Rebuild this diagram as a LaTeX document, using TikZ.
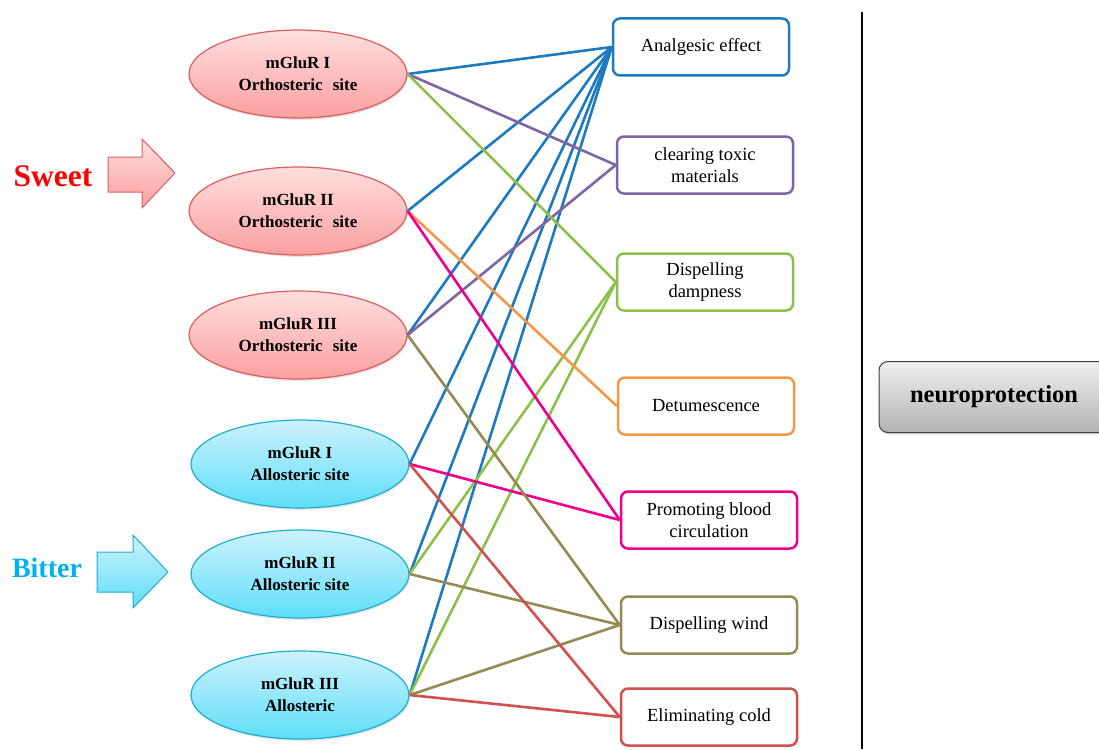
\documentclass[tikz,border=0pt]{standalone}
\usepackage{fontspec}
\setmainfont{Liberation Serif}
\usetikzlibrary{shapes.geometric,shadows}
\definecolor{sweetline}{RGB}{220,95,95}
\definecolor{sweettop}{RGB}{255,222,222}
\definecolor{sweetbot}{RGB}{250,160,160}
\definecolor{bitterline}{RGB}{30,175,205}
\definecolor{bittertop}{RGB}{205,242,252}
\definecolor{bitterbot}{RGB}{95,222,248}
\definecolor{cblue}{RGB}{30,122,192}
\definecolor{cpurple}{RGB}{128,100,165}
\definecolor{cgreen}{RGB}{140,192,75}
\definecolor{corange}{RGB}{247,150,70}
\definecolor{cmagenta}{RGB}{236,0,140}
\definecolor{colive}{RGB}{148,138,84}
\definecolor{cred}{RGB}{210,80,78}
\definecolor{bitterword}{RGB}{0,176,240}

\begin{document}
\begin{tikzpicture}[x=1pt,y=-1pt,
    sweetsite/.style={ellipse, draw=sweetline, line width=1.2pt, top color=sweettop, bottom color=sweetbot,
        minimum width=218pt, minimum height=88pt, inner sep=0pt, align=center,
        font=\fontsize{17}{22}\selectfont\bfseries,
        drop shadow={opacity=0.2, shadow xshift=1pt, shadow yshift=-2pt}},
    bittersite/.style={sweetsite, draw=bitterline, top color=bittertop, bottom color=bitterbot},
    effect/.style={draw, rounded corners=7pt, line width=2.5pt, fill=white, minimum width=176pt,
        minimum height=57pt, align=center, font=\fontsize{18.5}{22}\selectfont},
    link/.style={line width=2.6pt}]
    \useasboundingbox (0,0) rectangle (1099,749);
    % taste labels and block arrows
    \node[text=red, font=\fontsize{31.5}{30}\selectfont\bfseries] (sweet) at (53,176) {Sweet};
    \node[text=bitterword, font=\fontsize{28}{28}\selectfont\bfseries] (bitter) at (47,568) {Bitter};
    \draw[draw=sweetline, line width=1pt, top color=sweettop, bottom color=sweetbot]
        (108,157) -- (142,157) -- (142,139) -- (175,173) -- (142,208) -- (142,192) -- (108,192) -- cycle;
    \draw[draw=bitterline, line width=1pt, top color=bittertop, bottom color=bitterbot]
        (97,552) -- (133,552) -- (133,535) -- (168,572) -- (133,608) -- (133,592) -- (97,592) -- cycle;
    % receptor sites
    \node[sweetsite] (o1) at (298,74) {mGluR I\\Orthosteric\hspace{0.6em}site};
    \node[sweetsite] (o2) at (298,211) {mGluR II\\Orthosteric\hspace{0.6em}site};
    \node[sweetsite] (o3) at (298,335) {mGluR III\\Orthosteric\hspace{0.6em}site};
    \node[bittersite] (a1) at (300,464) {mGluR I\\Allosteric site};
    \node[bittersite] (a2) at (300,574) {mGluR II\\Allosteric site};
    \node[bittersite] (a3) at (300,695) {mGluR III\\Allosteric};
    % effects
    \node[effect, draw=cblue] (e1) at (701,47) {Analgesic effect};
    \node[effect, draw=cpurple] (e2) at (705,165) {clearing toxic\\materials};
    \node[effect, draw=cgreen] (e3) at (705,282) {Dispelling\\dampness};
    \node[effect, draw=corange] (e4) at (706,406) {Detumescence};
    \node[effect, draw=cmagenta] (e5) at (709,520) {Promoting blood\\circulation};
    \node[effect, draw=colive] (e6) at (709,625) {Dispelling wind};
    \node[effect, draw=cred] (e7) at (709,717) {Eliminating cold};
    % links
    \foreach \s in {o1,o2,o3,a1,a2,a3}
        \draw[link, cblue] (\s.east) -- (e1.west);
    \foreach \s in {o1,o3}
        \draw[link, cpurple] (\s.east) -- (e2.west);
    \foreach \s in {o1,a2,a3}
        \draw[link, cgreen] (\s.east) -- (e3.west);
    \draw[link, corange] (o2.east) -- (e4.west);
    \foreach \s in {o2,a1}
        \draw[link, cmagenta] (\s.east) -- (e5.west);
    \foreach \s in {o3,a2,a3}
        \draw[link, colive] (\s.east) -- (e6.west);
    \foreach \s in {a1,a3}
        \draw[link, cred] (\s.east) -- (e7.west);
    % outcome
    \coordinate (top) at (862,12);
    \coordinate (bottom) at (862,749);
    \draw[line width=1.6pt] (top) -- (bottom);
    \node[draw=black!75, line width=1pt, rounded corners=9pt, top color=black!6, bottom color=black!30,
        minimum width=230pt, minimum height=71pt, font=\fontsize{24.5}{24}\selectfont\bfseries,
        drop shadow={opacity=0.25, shadow xshift=1pt, shadow yshift=-2pt}] (np) at (994,397) {neuroprotection};
\end{tikzpicture}
\end{document}
